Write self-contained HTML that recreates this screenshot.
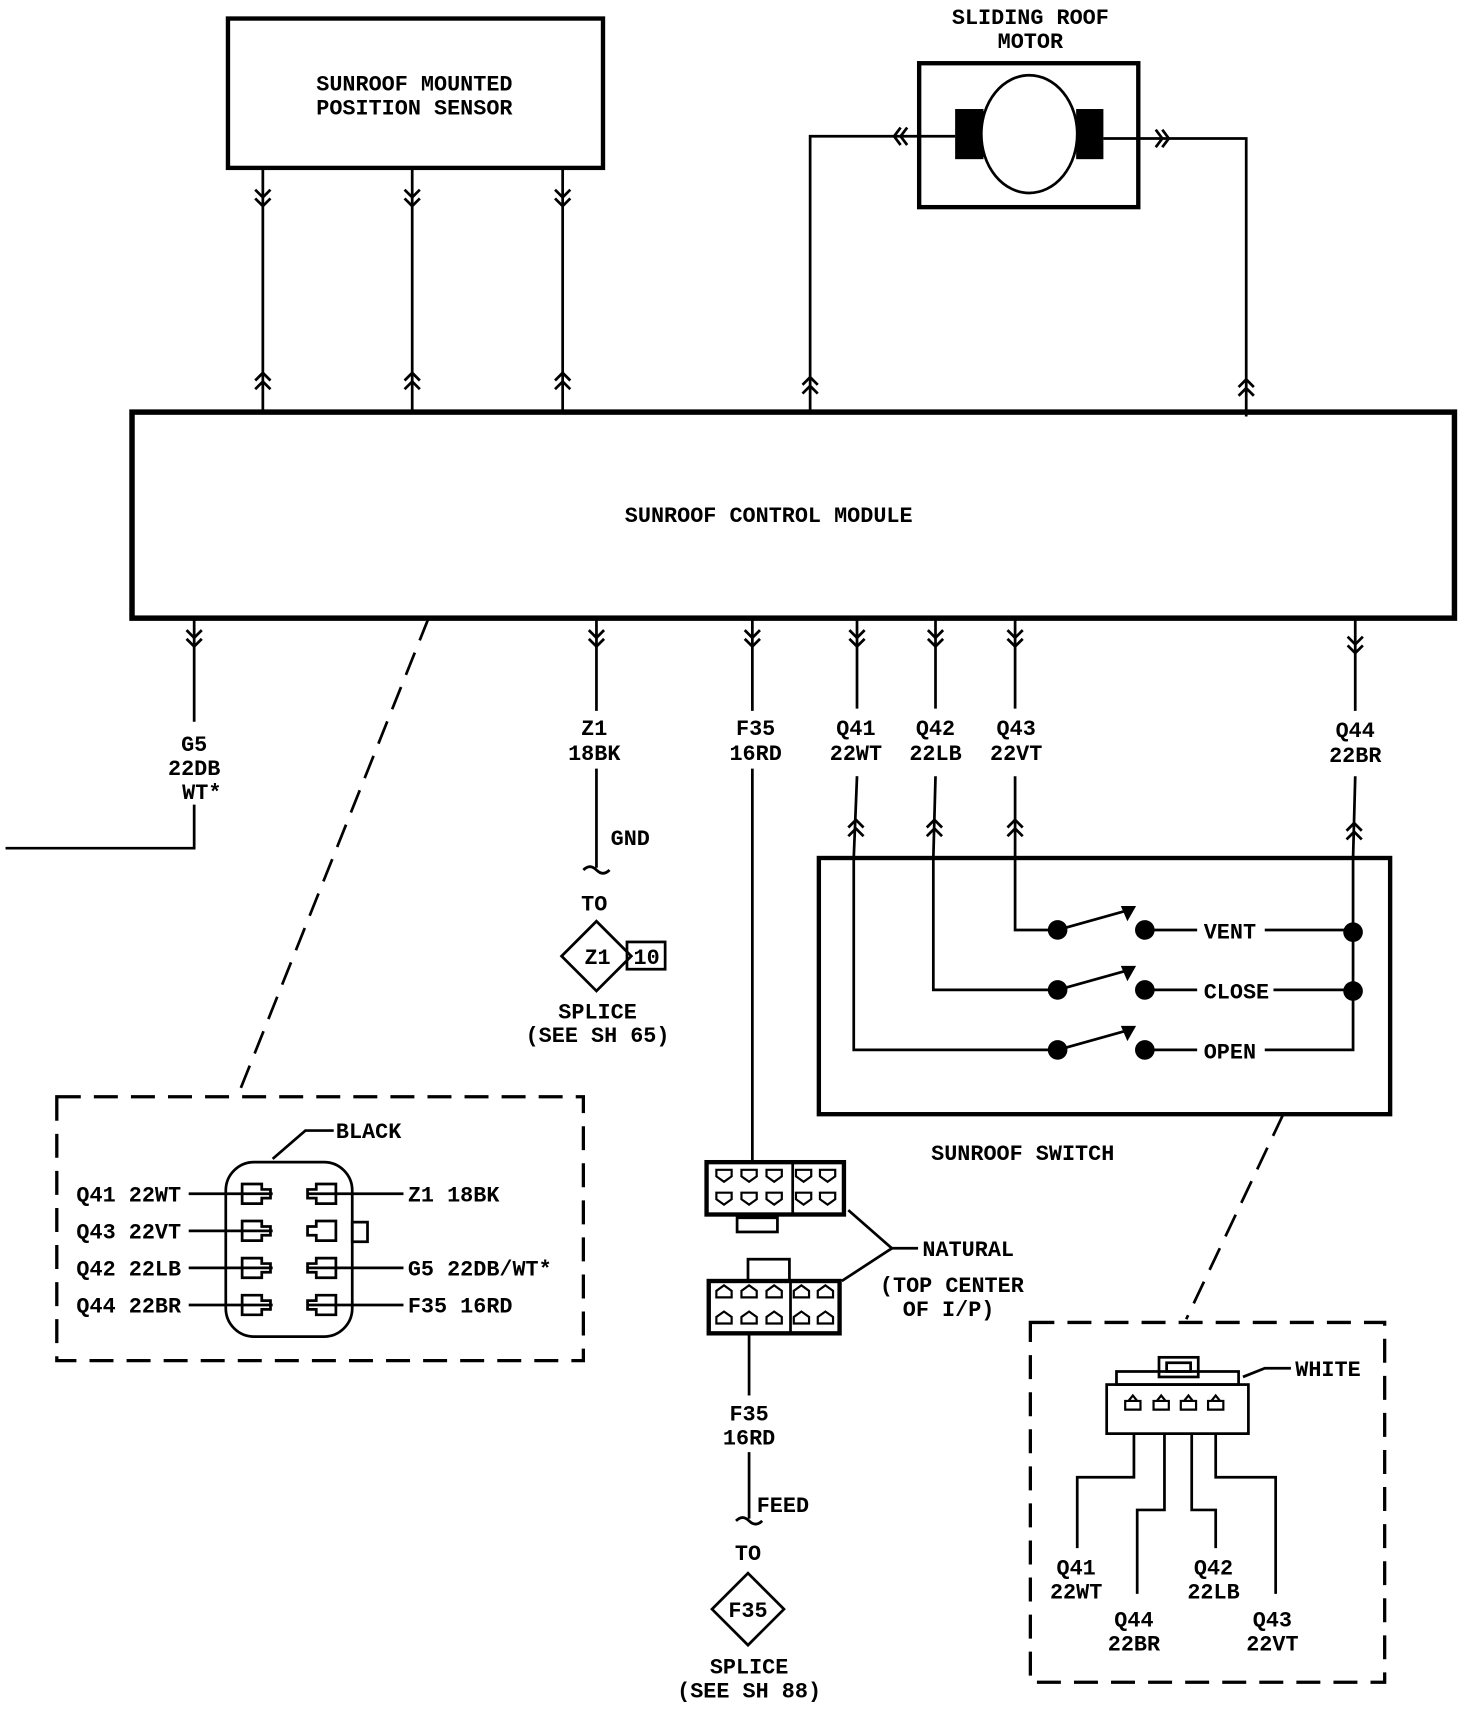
<!DOCTYPE html>
<html><head><meta charset="utf-8"><style>
html,body{margin:0;padding:0;background:#fff;}
svg{display:block;}
text{font-family:"Liberation Mono",monospace;font-weight:bold;font-size:20px;fill:#000;text-anchor:middle;}
.l{text-anchor:start;}
</style></head><body>
<svg width="1472" height="1716" viewBox="0 0 1350 1574" xmlns="http://www.w3.org/2000/svg" fill="none" stroke="#000" stroke-width="2.5">
<defs>
<g id="dn"><polyline points="-7,0 0,7 7,0"/><polyline points="-7,8 0,15 7,8"/></g>
<g id="up"><polyline points="-7,7 0,0 7,7"/><polyline points="-7,15 0,8 7,15"/></g>
<g id="pinL"><path d="M-20,-9 h18 v5 h8 v8 h-8 v5 h-18 z"/></g>
<g id="pinR"><path d="M20,-9 h-18 v5 h-8 v8 h8 v5 h18 z"/></g>
</defs>

<!-- sensor -->
<rect x="209" y="17" width="344" height="137" stroke-width="4"/>
<text x="380" y="83" stroke="none">SUNROOF MOUNTED</text>
<text x="380" y="105" stroke="none">POSITION SENSOR</text>

<!-- motor -->
<text x="945" y="22" stroke="none">SLIDING ROOF</text>
<text x="945" y="44" stroke="none">MOTOR</text>
<rect x="843" y="58" width="201" height="132" stroke-width="4"/>
<rect x="876" y="100" width="26" height="46" fill="#000" stroke="none"/>
<rect x="987" y="100" width="25" height="46" fill="#000" stroke="none"/>
<ellipse cx="944" cy="123" rx="44" ry="54" fill="#fff"/>
<polyline points="743,378 743,125 876,125"/>
<polyline points="1012,127 1143,127 1143,382"/>
<polyline points="826,117 820,125 826,133"/><polyline points="832,117 826,125 832,133"/>
<polyline points="1060,119 1066,127 1060,135"/><polyline points="1066,119 1072,127 1066,135"/>

<!-- sensor wires -->
<line x1="241" y1="154" x2="241" y2="378"/><line x1="378" y1="154" x2="378" y2="378"/><line x1="516" y1="154" x2="516" y2="378"/>
<use href="#dn" x="241" y="174"/><use href="#dn" x="378" y="174"/><use href="#dn" x="516" y="174"/>
<use href="#up" x="241" y="342"/><use href="#up" x="378" y="342"/><use href="#up" x="516" y="342"/>
<use href="#up" x="743" y="346"/><use href="#up" x="1143" y="348"/>

<!-- control module -->
<rect x="121" y="378" width="1213" height="189" stroke-width="5"/>
<text x="705" y="479" stroke="none">SUNROOF CONTROL MODULE</text>

<!-- bottom wires -->
<line x1="178" y1="567" x2="178" y2="662"/>
<polyline points="178,738 178,778 5,778"/>
<use href="#dn" x="178" y="578"/>
<text x="178" y="689" stroke="none">G5</text><text x="178" y="711" stroke="none">22DB</text><text x="185" y="733" stroke="none">WT*</text>
<line x1="393" y1="567" x2="218" y2="1005" stroke-dasharray="22,12"/>

<line x1="547" y1="567" x2="547" y2="652"/>
<line x1="547" y1="705" x2="547" y2="796"/>
<use href="#dn" x="547" y="578"/>
<path d="M535,798 q6,-6 12,0 q6,6 12,0"/>
<text x="545" y="674" stroke="none">Z1</text><text x="545" y="697" stroke="none">18BK</text>
<text x="578" y="775" stroke="none">GND</text>
<text x="545" y="835" stroke="none">TO</text>
<polygon points="547,845 579,877 547,909 515,877"/>
<text x="548" y="884" stroke="none">Z1</text>
<rect x="575" y="864" width="35" height="25"/>
<text x="593" y="884" stroke="none">10</text>
<text x="548" y="934" stroke="none">SPLICE</text><text x="548" y="956" stroke="none">(SEE SH 65)</text>

<line x1="690" y1="567" x2="690" y2="652"/>
<line x1="690" y1="705" x2="690" y2="1066"/>
<use href="#dn" x="690" y="578"/>
<text x="693" y="674" stroke="none">F35</text><text x="693" y="697" stroke="none">16RD</text>

<line x1="786" y1="567" x2="786" y2="650"/><line x1="858" y1="567" x2="858" y2="650"/><line x1="931" y1="567" x2="931" y2="650"/><line x1="1243" y1="567" x2="1243" y2="652"/>
<use href="#dn" x="786" y="578"/><use href="#dn" x="858" y="578"/><use href="#dn" x="931" y="578"/><use href="#dn" x="1243" y="584"/>
<text x="785" y="674" stroke="none">Q41</text><text x="785" y="697" stroke="none">22WT</text>
<text x="858" y="674" stroke="none">Q42</text><text x="858" y="697" stroke="none">22LB</text>
<text x="932" y="674" stroke="none">Q43</text><text x="932" y="697" stroke="none">22VT</text>
<text x="1243" y="676" stroke="none">Q44</text><text x="1243" y="699" stroke="none">22BR</text>

<!-- switch -->
<rect x="751" y="787" width="524" height="235" stroke-width="4"/>
<line x1="786" y1="712" x2="783" y2="787"/><line x1="858" y1="712" x2="856" y2="787"/><line x1="931" y1="712" x2="931" y2="787"/><line x1="1243" y1="712" x2="1241" y2="787"/>
<use href="#up" x="785" y="752"/><use href="#up" x="857" y="752"/><use href="#up" x="931" y="752"/><use href="#up" x="1242" y="755"/>
<polyline points="931,787 931,853 970,853"/>
<polyline points="856,787 856,908 970,908"/>
<polyline points="783,787 783,963 970,963"/>
<polyline points="1241,787 1241,963 1160,963"/>
<g fill="#000" stroke="none">
<circle cx="970" cy="853" r="9"/><circle cx="1050" cy="853" r="9"/><circle cx="1241" cy="855" r="9"/>
<circle cx="970" cy="908" r="9"/><circle cx="1050" cy="908" r="9"/><circle cx="1241" cy="909" r="9"/>
<circle cx="970" cy="963" r="9"/><circle cx="1050" cy="963" r="9"/>
<polygon points="1042,831 1028,831 1034,845"/><polygon points="1042,886 1028,886 1034,900"/><polygon points="1042,941 1028,941 1034,955"/>
</g>
<line x1="970" y1="853" x2="1038" y2="834"/><line x1="970" y1="908" x2="1038" y2="889"/><line x1="970" y1="963" x2="1038" y2="944"/>
<line x1="1050" y1="853" x2="1098" y2="853"/><line x1="1050" y1="908" x2="1098" y2="908"/><line x1="1050" y1="963" x2="1098" y2="963"/>
<line x1="1160" y1="853" x2="1241" y2="853"/><line x1="1168" y1="908" x2="1241" y2="908"/>
<text x="1128" y="861" stroke="none">VENT</text><text x="1134" y="916" stroke="none">CLOSE</text><text x="1128" y="971" stroke="none">OPEN</text>
<text x="938" y="1064" stroke="none">SUNROOF SWITCH</text>
<line x1="1177" y1="1022" x2="1088" y2="1210" stroke-dasharray="22,12"/>

<!-- left detail -->
<rect x="52" y="1006" width="483" height="242" stroke-dasharray="22,12" stroke-width="3"/>
<rect x="207" y="1066" width="116" height="160" rx="26"/>
<text x="308" y="1044" class="l" stroke="none">BLACK</text>
<polyline points="306,1037 280,1037 250,1063"/>
<g>
<use href="#pinL" x="242" y="1095"/><use href="#pinR" x="288" y="1095"/>
<use href="#pinL" x="242" y="1129"/><use href="#pinR" x="288" y="1129"/>
<use href="#pinL" x="242" y="1163"/><use href="#pinR" x="288" y="1163"/>
<use href="#pinL" x="242" y="1197"/><use href="#pinR" x="288" y="1197"/>
</g>
<rect x="323" y="1121" width="14" height="18"/>
<line x1="173" y1="1095" x2="250" y2="1095"/><line x1="173" y1="1129" x2="250" y2="1129"/><line x1="173" y1="1163" x2="250" y2="1163"/><line x1="173" y1="1197" x2="250" y2="1197"/>
<line x1="282" y1="1095" x2="370" y2="1095"/><line x1="282" y1="1163" x2="370" y2="1163"/><line x1="282" y1="1197" x2="370" y2="1197"/>
<text x="70" y="1102" class="l" stroke="none">Q41 22WT</text>
<text x="70" y="1136" class="l" stroke="none">Q43 22VT</text>
<text x="70" y="1170" class="l" stroke="none">Q42 22LB</text>
<text x="70" y="1204" class="l" stroke="none">Q44 22BR</text>
<text x="374" y="1102" class="l" stroke="none">Z1 18BK</text>
<text x="374" y="1170" class="l" stroke="none">G5 22DB/WT*</text>
<text x="374" y="1204" class="l" stroke="none">F35 16RD</text>

<!-- center connectors -->
<rect x="648" y="1066" width="126" height="48" stroke-width="4"/>
<line x1="727" y1="1066" x2="727" y2="1114"/>
<rect x="676" y="1117" width="37" height="13"/>
<g stroke-width="2">
<path d="M657,1073 h14 v6 l-7,5 l-7,-5z"/><path d="M680,1073 h14 v6 l-7,5 l-7,-5z"/><path d="M703,1073 h14 v6 l-7,5 l-7,-5z"/><path d="M730,1073 h14 v6 l-7,5 l-7,-5z"/><path d="M752,1073 h14 v6 l-7,5 l-7,-5z"/>
<path d="M657,1094 h14 v6 l-7,5 l-7,-5z"/><path d="M680,1094 h14 v6 l-7,5 l-7,-5z"/><path d="M703,1094 h14 v6 l-7,5 l-7,-5z"/><path d="M730,1094 h14 v6 l-7,5 l-7,-5z"/><path d="M752,1094 h14 v6 l-7,5 l-7,-5z"/>
</g>
<rect x="650" y="1175" width="120" height="48" stroke-width="4"/>
<rect x="686" y="1155" width="38" height="20"/>
<line x1="725" y1="1175" x2="725" y2="1223"/>
<g stroke-width="2">
<path d="M657,1190 h14 v-6 l-7,-5 l-7,5z"/><path d="M680,1190 h14 v-6 l-7,-5 l-7,5z"/><path d="M703,1190 h14 v-6 l-7,-5 l-7,5z"/><path d="M728,1190 h14 v-6 l-7,-5 l-7,5z"/><path d="M750,1190 h14 v-6 l-7,-5 l-7,5z"/>
<path d="M657,1214 h14 v-6 l-7,-5 l-7,5z"/><path d="M680,1214 h14 v-6 l-7,-5 l-7,5z"/><path d="M703,1214 h14 v-6 l-7,-5 l-7,5z"/><path d="M728,1214 h14 v-6 l-7,-5 l-7,5z"/><path d="M750,1214 h14 v-6 l-7,-5 l-7,5z"/>
</g>
<polyline points="842,1145 818,1145 778,1110"/><line x1="818" y1="1145" x2="772" y2="1175"/>
<text x="846" y="1152" class="l" stroke="none">NATURAL</text>
<text x="873" y="1185" stroke="none">(TOP CENTER</text><text x="870" y="1207" stroke="none">OF I/P)</text>

<line x1="687" y1="1223" x2="687" y2="1280"/>
<line x1="687" y1="1332" x2="687" y2="1393"/>
<path d="M675,1395 q6,-6 12,0 q6,6 12,0"/>
<text x="687" y="1303" stroke="none">F35</text><text x="687" y="1325" stroke="none">16RD</text>
<text x="718" y="1387" stroke="none">FEED</text>
<text x="686" y="1431" stroke="none">TO</text>
<polygon points="686,1443 719,1476 686,1509 653,1476"/>
<text x="686" y="1483" stroke="none">F35</text>
<text x="687" y="1535" stroke="none">SPLICE</text><text x="687" y="1557" stroke="none">(SEE SH 88)</text>

<!-- right detail -->
<rect x="945" y="1213" width="325" height="330" stroke-dasharray="22,12" stroke-width="3"/>
<rect x="1015" y="1270" width="130" height="45"/>
<rect x="1024" y="1258" width="112" height="12"/>
<rect x="1063" y="1245" width="36" height="18"/>
<rect x="1070" y="1250" width="22" height="8"/>
<g stroke-width="2">
<path d="M1032,1285 h14 v8 h-14z M1035,1285 l4,-5 l4,5"/><path d="M1058,1285 h14 v8 h-14z M1061,1285 l4,-5 l4,5"/><path d="M1083,1285 h14 v8 h-14z M1086,1285 l4,-5 l4,5"/><path d="M1108,1285 h14 v8 h-14z M1111,1285 l4,-5 l4,5"/>
</g>
<polyline points="1184,1255 1160,1255 1140,1263"/>
<text x="1188" y="1262" class="l" stroke="none">WHITE</text>
<polyline points="1040,1315 1040,1355 988,1355 988,1420"/>
<polyline points="1068,1315 1068,1385 1043,1385 1043,1462"/>
<polyline points="1093,1315 1093,1385 1115,1385 1115,1420"/>
<polyline points="1115,1315 1115,1355 1170,1355 1170,1462"/>
<text x="987" y="1444" stroke="none">Q41</text><text x="987" y="1466" stroke="none">22WT</text>
<text x="1040" y="1492" stroke="none">Q44</text><text x="1040" y="1514" stroke="none">22BR</text>
<text x="1113" y="1444" stroke="none">Q42</text><text x="1113" y="1466" stroke="none">22LB</text>
<text x="1167" y="1492" stroke="none">Q43</text><text x="1167" y="1514" stroke="none">22VT</text>
</svg>
</body></html>
